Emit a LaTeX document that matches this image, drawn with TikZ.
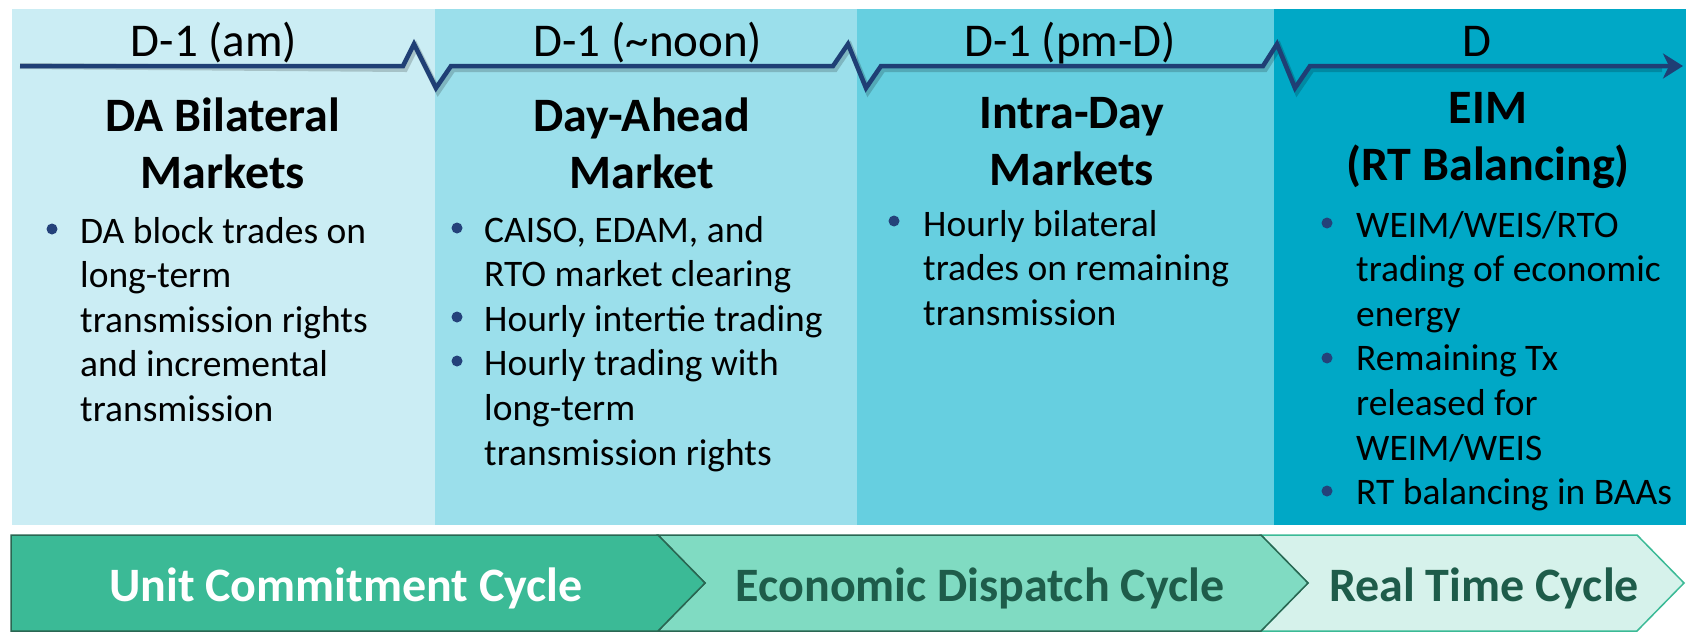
\documentclass[tikz,border=0pt]{standalone}
\usepackage{fontspec}
\setmainfont{Carlito}
\usetikzlibrary{arrows.meta}
\definecolor{colA}{HTML}{CBEDF4}
\definecolor{colB}{HTML}{9BDFEB}
\definecolor{colC}{HTML}{66CFE0}
\definecolor{colD}{HTML}{00A8C6}
\definecolor{navy}{HTML}{1F3F75}
\definecolor{bulc}{HTML}{24427A}
\definecolor{chA}{HTML}{3BBA96}
\definecolor{chB}{HTML}{80DBC2}
\definecolor{chC}{HTML}{D6F2EB}
\definecolor{chdark}{HTML}{2A6652}
\definecolor{chtext}{HTML}{1E5C4A}
\newcommand{\linesbox}[2]{\vtop{\hsize=#1\parindent=0pt\relax #2}}
\newcommand{\ctbox}[1]{\vtop{\hsize=420pt\parindent=0pt\centering #1}}
\begin{document}
\begin{tikzpicture}[x=1pt,y=-1pt,
  panel/.style={rectangle, draw=none, inner sep=0pt, anchor=north west, minimum height=516pt},
  hdr/.style={anchor=base, inner sep=0pt, font=\fontsize{47}{56}\selectfont},
  ttl/.style={anchor=base, inner sep=0pt, font=\bfseries\fontsize{48}{57}\selectfont},
  btext/.style={anchor=base west, inner sep=0pt, font=\fontsize{37.5}{44.6}\selectfont},
  bul/.style={circle, fill=bulc, inner sep=0pt, minimum size=11pt},
  tl/.style={draw=navy, line width=4.5pt, line join=miter},
  tlshadow/.style={draw=black, opacity=0.18, line width=6pt, line join=miter, shift={(2,3)}},
  chev/.style={line width=1.5pt, line join=miter},
  chtxt/.style={anchor=base, inner sep=0pt, font=\bfseries\fontsize{48}{56}\selectfont}
]
\useasboundingbox (0,0) rectangle (1686,632);
\fill[white] (0,0) rectangle (1686,632);

% column panels
\node[panel, fill=colA, minimum width=423pt] (p1) at (12,9) {};
\node[panel, fill=colB, minimum width=422pt] (p2) at (435,9) {};
\node[panel, fill=colC, minimum width=417pt] (p3) at (857,9) {};
\node[panel, fill=colD, minimum width=412pt] (p4) at (1274,9) {};

% timeline
\coordinate (tls) at (20,66);
\coordinate (tle) at (1683,66);
\draw[tlshadow] (tls) -- (403,66) -- (414,44) -- (436,88) -- (451,66) -- (833,66) -- (848,44) -- (866,88) -- (881,66) -- (1263,66) -- (1277,44) -- (1295,88) -- (1310,66) -- (1660,66);
\draw[tl, -{Stealth[length=20pt,width=25pt,inset=6pt]}] (tls) -- (403,66) -- (414,44) -- (436,88) -- (451,66) -- (833,66) -- (848,44) -- (866,88) -- (881,66) -- (1263,66) -- (1277,44) -- (1295,88) -- (1310,66) -- (tle);

% headers
\node[hdr] (d1) at (214,56) {D-1 (am)};
\node[hdr] (d2) at (648,56) {D-1 (\textasciitilde noon)};
\node[hdr] (d3) at (1070,56) {D-1 (pm-D)};
\node[hdr] (d4) at (1477,56) {D};

% titles
\node[ttl] (h1) at (223,131) {\ctbox{DA Bilateral\\Markets}};
\node[ttl] (h2) at (642,131) {\ctbox{Day-Ahead\\Market}};
\node[ttl] (h3) at (1072,128) {\ctbox{Intra-Day\\Markets}};
\node[ttl] (h4) at (1488,123) {\ctbox{EIM\\(RT Balancing)}};

% bullets
\node[bul] (b1a) at (52,229) {};
\node[bul] (b2a) at (457,228) {};
\node[bul] (b2b) at (457,317) {};
\node[bul] (b2c) at (457,361) {};
\node[bul] (b3a) at (894,221) {};
\node[bul] (b4a) at (1327,223) {};
\node[bul] (b4b) at (1327,358) {};
\node[bul] (b4c) at (1327,491) {};

% bullet texts
\node[btext] (t1) at (80,243) {\linesbox{340pt}{DA block trades on\\long-term\\transmission rights\\and incremental\\transmission}};
\node[btext] (t2) at (484,242) {\linesbox{370pt}{CAISO, EDAM, and\\RTO market clearing\\Hourly intertie trading\\Hourly trading with\\long-term\\transmission rights}};
\node[btext] (t3) at (923,236) {\linesbox{340pt}{Hourly bilateral\\trades on remaining\\transmission}};
\node[btext] (t4) at (1356,237) {\linesbox{330pt}{WEIM/WEIS/RTO\\trading of economic\\energy\\Remaining Tx\\released for\\WEIM/WEIS\\RT balancing in BAAs}};

% chevrons
\draw[chev, fill=chC, draw=chA] (1261,535) -- (1637,535) -- (1684,583) -- (1637,631) -- (1261,631) -- (1308,583) -- cycle;
\draw[chev, fill=chB, draw=chdark] (658,535) -- (1261,535) -- (1308,583) -- (1261,631) -- (658,631) -- (705,583) -- cycle;
\draw[chev, fill=chA, draw=chdark] (11,535) -- (658,535) -- (705,583) -- (658,631) -- (11,631) -- cycle;

\node[chtxt, text=white] (c1) at (346,601) {Unit Commitment Cycle};
\node[chtxt, text=chtext] (c2) at (980,601) {Economic Dispatch Cycle};
\node[chtxt, text=chtext] (c3) at (1484,601) {Real Time Cycle};
\end{tikzpicture}
\end{document}
